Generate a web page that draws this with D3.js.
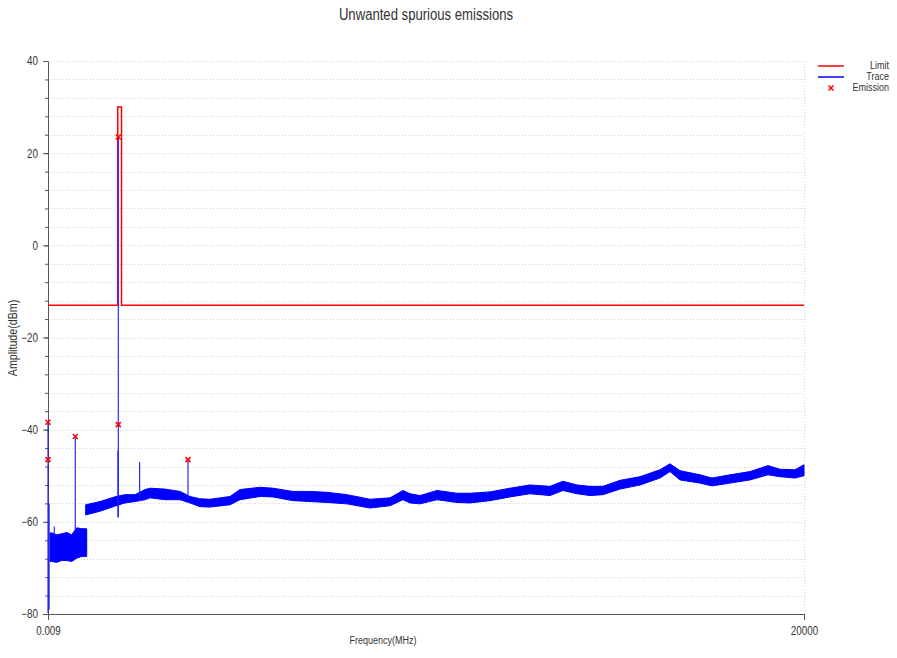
<!DOCTYPE html>
<html>
<head>
<meta charset="utf-8">
<script src="https://cdn.jsdelivr.net/npm/d3@7"></script>
<style>
    body { margin: 0; background: #fff; }
    text { font-family: "Liberation Sans", Arial, sans-serif; fill: #333; }
</style>
</head>
<body>
<div id="chart"></div>
<script>
// limit mask (MHz, dBm)
const limitFreq = [0.009, 1845, 1845, 1945, 1945, 20000];
const limitLevel = [-13, -13, 30, 30, -13, -13];

// trace envelope below ~1 GHz
const lowFreq = [53, 98, 230, 362, 495, 627, 759, 892, 1024];
const lowMax = [-62.4, -62.4, -62.8, -62.6, -62.3, -62.8, -61.3, -61.5, -61.5];
const lowMin = [-68.6, -68.6, -68.8, -68.4, -68.4, -68.6, -67.9, -67.5, -67.5];

// trace envelope above ~1 GHz
const mainFreq = [997, 1376, 1799, 2037, 2302, 2566, 2698, 3095, 3492, 3757,
    4021, 4286, 4815, 5079, 5608, 5952, 6481, 6931, 7381, 7910,
    8519, 9048, 9392, 9577, 9842, 10291, 10820, 11164, 11693, 12222,
    12751, 13280, 13624, 13995, 14339, 14683, 15132, 15661, 16190, 16455,
    16720, 17249, 17566, 18042, 18571, 19048, 19365, 19762, 20000];
const mainMax = [-56.3, -55.6, -54.5, -54.1, -54.1, -53.0, -52.7, -52.9, -53.4, -54.5,
    -55.0, -55.1, -54.5, -53.0, -52.5, -52.7, -53.4, -53.4, -53.6, -54.1,
    -55.1, -54.8, -53.2, -53.9, -54.3, -53.2, -53.8, -53.8, -53.5, -52.7,
    -52.0, -52.3, -51.2, -52.0, -52.3, -52.3, -51.0, -50.2, -48.7, -47.4,
    -48.9, -49.8, -50.5, -49.8, -49.1, -47.8, -48.6, -48.7, -47.6];
const mainMin = [-58.5, -57.7, -56.5, -55.9, -55.6, -55.2, -54.8, -55.2, -55.2, -55.9,
    -56.7, -56.8, -56.3, -55.2, -54.5, -54.6, -55.4, -55.6, -55.8, -56.1,
    -57.0, -56.5, -55.2, -55.9, -56.1, -55.2, -55.8, -55.9, -55.4, -54.6,
    -53.9, -54.3, -53.2, -53.9, -54.3, -54.1, -52.9, -52.0, -50.5, -49.1,
    -50.9, -51.6, -52.2, -51.6, -50.9, -49.8, -50.2, -50.5, -50.0];

// narrow spikes in the trace
const spikeFreq = [0.009, 30, 166, 722, 1850, 1860, 2425, 3704];
const spikeFrom = [-79.8, -79, -63, -62, -59, -59, -55, -55];
const spikeTo = [-38.4, -56, -61, -41.5, -44.5, 23.5, -47, -46.5];

// emission markers
const emissionFreq = [0.009, 0.009, 722, 1860, 1860, 3704];
const emissionLevel = [-38.4, -46.5, -41.5, -38.9, 23.5, -46.5];

const yTickValues = [-80, -60, -40, -20, 0, 20, 40];
const xTickValues = [0.009, 20000];

const legendNames = ["Limit", "Trace", "Emission"];

const W = 897, H = 658;
const margin = { top: 61, right: 93, bottom: 44, left: 48 };
const width = W - margin.left - margin.right;
const height = H - margin.top - margin.bottom;

// squeeze text horizontally (the original uses a narrow face)
const K = 0.82;
function narrow(sel, extra) {
    sel.each(function () {
        const t = d3.select(this);
        const xv = +t.attr("x") || 0;
        t.attr("x", xv / K).attr("transform", (extra || "") + ` scale(${K},1)`);
    });
}

const svg = d3.select("#chart")
    .append("svg")
    .attr("width", W)
    .attr("height", H);

const g = svg.append("g")
    .attr("transform", `translate(${margin.left},${margin.top})`);

const x = d3.scaleLinear().domain([0.009, 20000]).range([0, width]);
const y = d3.scaleLinear().domain([-80, 40]).range([height, 0]);

// dotted grid every 4 dB
const minorTicks = d3.range(-76, 41, 4);
g.selectAll(".grid")
    .data(minorTicks)
    .enter()
    .append("line")
    .attr("x1", 0)
    .attr("x2", width)
    .attr("y1", d => Math.round(y(d)) + 0.5)
    .attr("y2", d => Math.round(y(d)) + 0.5)
    .attr("stroke", "#d0d0d0")
    .attr("stroke-dasharray", "1,2");

// dotted right border
g.append("line")
    .attr("x1", width + 0.5).attr("x2", width + 0.5)
    .attr("y1", 0).attr("y2", height)
    .attr("stroke", "#d0d0d0")
    .attr("stroke-dasharray", "1,2");

// axes (drawn first so the trace sits on top of them)
const yAxisMinor = g.append("g")
    .call(d3.axisLeft(y).tickValues(d3.range(-80, 41, 4)).tickSize(3).tickFormat(""));
yAxisMinor.select(".domain").remove();
yAxisMinor.selectAll("line").attr("stroke", "#555");

const yAxis = g.append("g")
    .call(d3.axisLeft(y).tickValues(yTickValues).tickSize(5).tickPadding(5).tickSizeOuter(0));
yAxis.select(".domain").attr("stroke", "#555");
yAxis.selectAll("line").attr("stroke", "#555");
yAxis.selectAll("text")
    .style("font-size", "12px")
    .attr("fill", "#333")
    .call(narrow);

const xAxis = g.append("g")
    .attr("transform", `translate(0,${height})`)
    .call(d3.axisBottom(x).tickValues(xTickValues).tickSize(6).tickPadding(6).tickSizeOuter(0)
        .tickFormat(d => d === 0.009 ? "0.009" : String(d)));
xAxis.select(".domain").attr("stroke", "#555");
xAxis.selectAll("line").attr("stroke", "#555");
xAxis.selectAll("text")
    .style("font-size", "12px")
    .attr("fill", "#333")
    .call(narrow);

// limit line
const limitData = limitFreq.map((f, i) => [f, limitLevel[i]]);
g.append("path")
    .datum(limitData)
    .attr("fill", "none")
    .attr("stroke", "#ff0000")
    .attr("stroke-width", 1.5)
    .attr("d", d3.line().x(d => x(d[0])).y(d => y(d[1])));

// trace bands
const band = d3.area()
    .x(d => x(d.f))
    .y0(d => y(d.lo))
    .y1(d => y(d.hi));

const lowData = lowFreq.map((f, i) => ({ f: f, lo: lowMin[i], hi: lowMax[i] }));
const mainData = mainFreq.map((f, i) => ({ f: f, lo: mainMin[i], hi: mainMax[i] }));

[lowData, mainData].forEach(data => {
    g.append("path")
        .datum(data)
        .attr("fill", "#0000ff")
        .attr("stroke", "#0000ff")
        .attr("stroke-width", 1)
        .attr("d", band);
});

// spikes
g.selectAll(".spike")
    .data(spikeFreq)
    .enter()
    .append("line")
    .attr("x1", d => x(d))
    .attr("x2", d => x(d))
    .attr("y1", (d, i) => y(spikeFrom[i]))
    .attr("y2", (d, i) => y(spikeTo[i]))
    .attr("stroke", "#1a1aff")
    .attr("stroke-width", 1.1);

// emission markers
const cross = "M-2.5,-2.5L2.5,2.5M-2.5,2.5L2.5,-2.5";
g.selectAll(".emission")
    .data(emissionFreq)
    .enter()
    .append("path")
    .attr("transform", (d, i) => `translate(${x(d)},${y(emissionLevel[i])})`)
    .attr("d", cross)
    .attr("stroke", "#ff0000")
    .attr("stroke-width", 1.5)
    .attr("fill", "none");

// title
svg.append("text")
    .attr("x", 426)
    .attr("y", 20)
    .attr("text-anchor", "middle")
    .style("font-size", "16px")
    .attr("fill", "#000")
    .text("Unwanted spurious emissions")
    .call(narrow);

// x label
svg.append("text")
    .attr("x", 383)
    .attr("y", 644)
    .attr("text-anchor", "middle")
    .style("font-size", "11px")
    .text("Frequency(MHz)")
    .call(narrow);

// y label
svg.append("text")
    .attr("x", -338)
    .attr("y", 17)
    .attr("text-anchor", "middle")
    .style("font-size", "13px")
    .text("Amplitude(dBm)")
    .call(narrow, "rotate(-90)");

// legend
const legend = svg.append("g");
const legendY = [66, 77, 88];
legend.append("line")
    .attr("x1", 818).attr("x2", 844)
    .attr("y1", legendY[0]).attr("y2", legendY[0])
    .attr("stroke", "#ff0000").attr("stroke-width", 1.5);
legend.append("line")
    .attr("x1", 818).attr("x2", 844)
    .attr("y1", legendY[1]).attr("y2", legendY[1])
    .attr("stroke", "#0000ff").attr("stroke-width", 1.5);
legend.append("path")
    .attr("transform", `translate(831,${legendY[2]})`)
    .attr("d", cross)
    .attr("stroke", "#ff0000")
    .attr("stroke-width", 1.5);
legend.selectAll(".legendText")
    .data(legendNames)
    .enter()
    .append("text")
    .attr("x", 889)
    .attr("y", (d, i) => legendY[i] + 3)
    .attr("text-anchor", "end")
    .style("font-size", "11px")
    .text(d => d)
    .call(narrow);
</script>
</body>
</html>
